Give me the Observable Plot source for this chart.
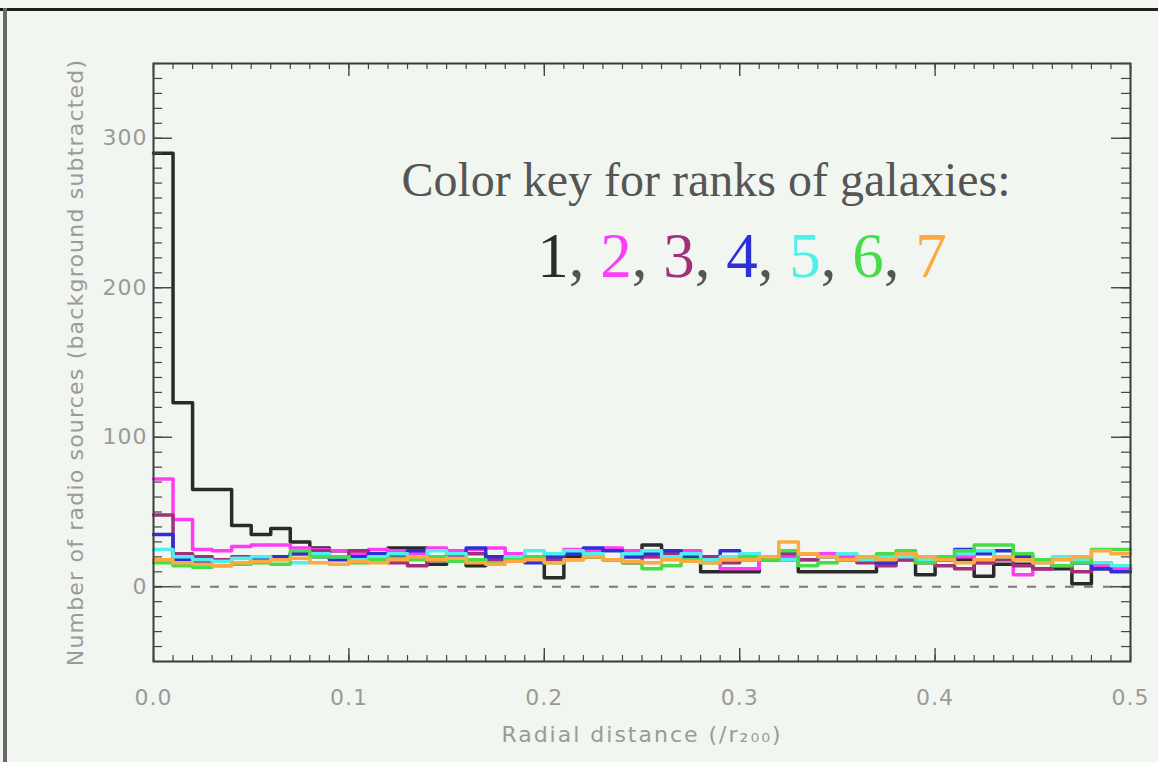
<!DOCTYPE html>
<html><head><meta charset="utf-8">
<script src="https://cdn.jsdelivr.net/npm/d3@7"></script>
<script src="https://cdn.jsdelivr.net/npm/@observablehq/plot@0.6"></script>
<style>
html,body{margin:0;padding:0;background:#f2f6f0;}
#wrap{position:relative;width:1158px;height:762px;overflow:hidden;}
#topline{position:absolute;left:0;top:8px;width:1158px;height:3px;background:#1e1e1e;}
#leftline{position:absolute;left:3px;top:8px;width:4px;height:754px;background:#6a6a6a;}
#chart svg{display:block;}
g[aria-label="x-axis tick label"] text, g[aria-label="y-axis tick label"] text{letter-spacing:1px;}
g[aria-label="x-axis label"] text{letter-spacing:2px;}
g[aria-label="y-axis label"] text{letter-spacing:1.2px;}
</style></head>
<body><div id="wrap"><div id="chart"></div><div id="topline"></div><div id="leftline"></div></div>
<script>
// ---- data ----
const ranks = ["1", "2", "3", "4", "5", "6", "7"];
const rankColors = ["#2a2a2a", "#ff3cf5", "#a0307a", "#2f2fd8", "#4ff0ec", "#48dc48", "#ffaa40"];
const binWidth = 0.01;
const xMax = 0.5;
const rank1 = [290,123,65,65,41,35,39,30,26,24, 22,22,26,26,15,22,14,20,20,20, 6,20,20,18,20,28,20,20,10,10, 10,18,18,10,10,10,10,20,18,8, 18,18,7,15,15,12,12,2,12,12];
const rank2 = [72,45,25,24,27,28,28,26,25,24, 22,25,24,22,26,24,25,26,22,20, 22,25,24,26,24,20,22,24,20,12, 12,18,20,18,22,20,18,20,22,20, 18,20,16,20,8,12,14,16,14,12];
const rank3 = [48,22,20,18,20,19,20,22,24,20, 24,20,16,14,18,20,22,18,20,20, 18,22,20,18,16,20,22,18,20,16, 18,20,22,18,20,18,16,14,18,16, 14,12,16,18,14,12,14,10,16,14];
const rank4 = [35,18,16,17,16,18,20,22,20,18, 20,22,20,24,18,20,26,20,18,16, 20,22,26,24,20,22,24,20,18,24, 22,20,24,22,20,18,20,16,22,20, 18,25,22,24,20,18,14,16,12,10];
const rank5 = [25,20,18,17,19,20,18,16,22,20, 18,20,22,20,24,22,18,16,20,24, 22,24,22,18,22,24,20,22,18,20, 22,20,18,22,20,22,18,20,20,18, 20,22,24,20,18,16,20,18,16,14];
const rank6 = [16,14,13,14,15,16,15,24,20,20, 16,18,19,18,20,17,18,16,18,20, 16,18,20,18,16,12,14,18,16,18, 20,18,24,14,16,18,20,22,24,16, 20,24,28,28,22,18,14,16,25,25];
const rank7 = [18,16,15,14,16,17,18,19,16,15, 17,16,18,20,18,19,16,15,17,18, 16,18,20,18,17,16,18,17,16,18, 18,20,30,22,20,18,20,18,22,20, 18,16,18,20,18,16,18,20,24,22];
const series = [rank1, rank2, rank3, rank4, rank5, rank6, rank7];
const xTicks = [0, 0.1, 0.2, 0.3, 0.4, 0.5];
const yTicks = [0, 100, 200, 300];
const keyTitle = "Color key for ranks of galaxies:";
const xLabel = "Radial distance (/r\u2082\u2080\u2080)";
const yLabel = "Number of radio sources (background subtracted)";

// ---- build table ----
const rows = [];
series.forEach((vals, k) => {
  vals.forEach((v, i) => rows.push({rank: ranks[k], x: i * binWidth, v}));
  rows.push({rank: ranks[k], x: xMax, v: vals[vals.length - 1]});
});
const xMinor = d3.range(0, xMax + 1e-9, binWidth);
const yMinor = d3.range(-50, 351, 10);
const keyDigits = ranks.join(", ");

const W = 1158, H = 762, mL = 153, mR = 28, mT = 63, mB = 101;
const fw = W - mL - mR, fh = H - mT - mB;
const tickColor = "#444";
const labelColor = "#9a9a9a";

const plot = Plot.plot({
  width: W, height: H,
  marginLeft: mL, marginRight: mR, marginTop: mT, marginBottom: mB,
  style: {background: "none", fontFamily: "DejaVu Sans", overflow: "visible"},
  x: {domain: [0, xMax]},
  y: {domain: [-50, 350]},
  color: {domain: ranks, range: rankColors},
  marks: [
    Plot.ruleY([0], {stroke: "#7a7a7a", strokeWidth: 1.8, strokeDasharray: "9,10"}),
    Plot.line(rows, {x: "x", y: "v", z: "rank", stroke: "rank", curve: "step-after", strokeWidth: 3.5}),
    Plot.frame({stroke: "#3a3a3a", strokeWidth: 2}),
    Plot.tickX(xMinor, {x: d => d, stroke: tickColor, strokeWidth: 1.2, insetTop: fh - 6}),
    Plot.tickX(xMinor, {x: d => d, stroke: tickColor, strokeWidth: 1.2, insetBottom: fh - 6}),
    Plot.tickX(xTicks, {x: d => d, stroke: tickColor, strokeWidth: 1.4, insetTop: fh - 13}),
    Plot.tickX(xTicks, {x: d => d, stroke: tickColor, strokeWidth: 1.4, insetBottom: fh - 13}),
    Plot.tickY(yMinor, {y: d => d, stroke: tickColor, strokeWidth: 1.2, insetRight: fw - 9}),
    Plot.tickY(yMinor, {y: d => d, stroke: tickColor, strokeWidth: 1.2, insetLeft: fw - 9}),
    Plot.tickY(yTicks, {y: d => d, stroke: tickColor, strokeWidth: 1.4, insetRight: fw - 19}),
    Plot.tickY(yTicks, {y: d => d, stroke: tickColor, strokeWidth: 1.4, insetLeft: fw - 19}),
    Plot.axisX(xTicks, {tickSize: 0, tickPadding: 28, tickFormat: d3.format(".1f"), fontSize: 22, fill: labelColor,
      label: xLabel, labelAnchor: "center", labelOffset: 80, labelArrow: "none"}),
    Plot.axisY(yTicks, {tickSize: 0, tickPadding: 6, fontSize: 22, fill: labelColor,
      label: yLabel, labelAnchor: "center", labelOffset: 86, labelArrow: "none"}),
    Plot.text([keyTitle], {text: d => d, frameAnchor: "top", dx: 64, dy: 117, lineAnchor: "middle",
      fontSize: 48, fontFamily: "Liberation Serif", fill: "#555"}),
    Plot.text([keyDigits], {text: d => d, frameAnchor: "top", dx: 100, dy: 193, lineAnchor: "middle",
      fontSize: 63, fontFamily: "Liberation Serif", fill: "#333"})
  ]
});
document.getElementById("chart").appendChild(plot);

// colour each rank number in the key with its series colour
d3.select(plot).selectAll("text").filter(function() { return this.textContent === keyDigits; }).each(function() {
  const t = d3.select(this);
  t.text(null);
  ranks.forEach((r, i) => {
    t.append("tspan").attr("fill", rankColors[i]).text(r);
    if (i < ranks.length - 1) t.append("tspan").attr("fill", "#555").text(", ");
  });
});
</script></body></html>
